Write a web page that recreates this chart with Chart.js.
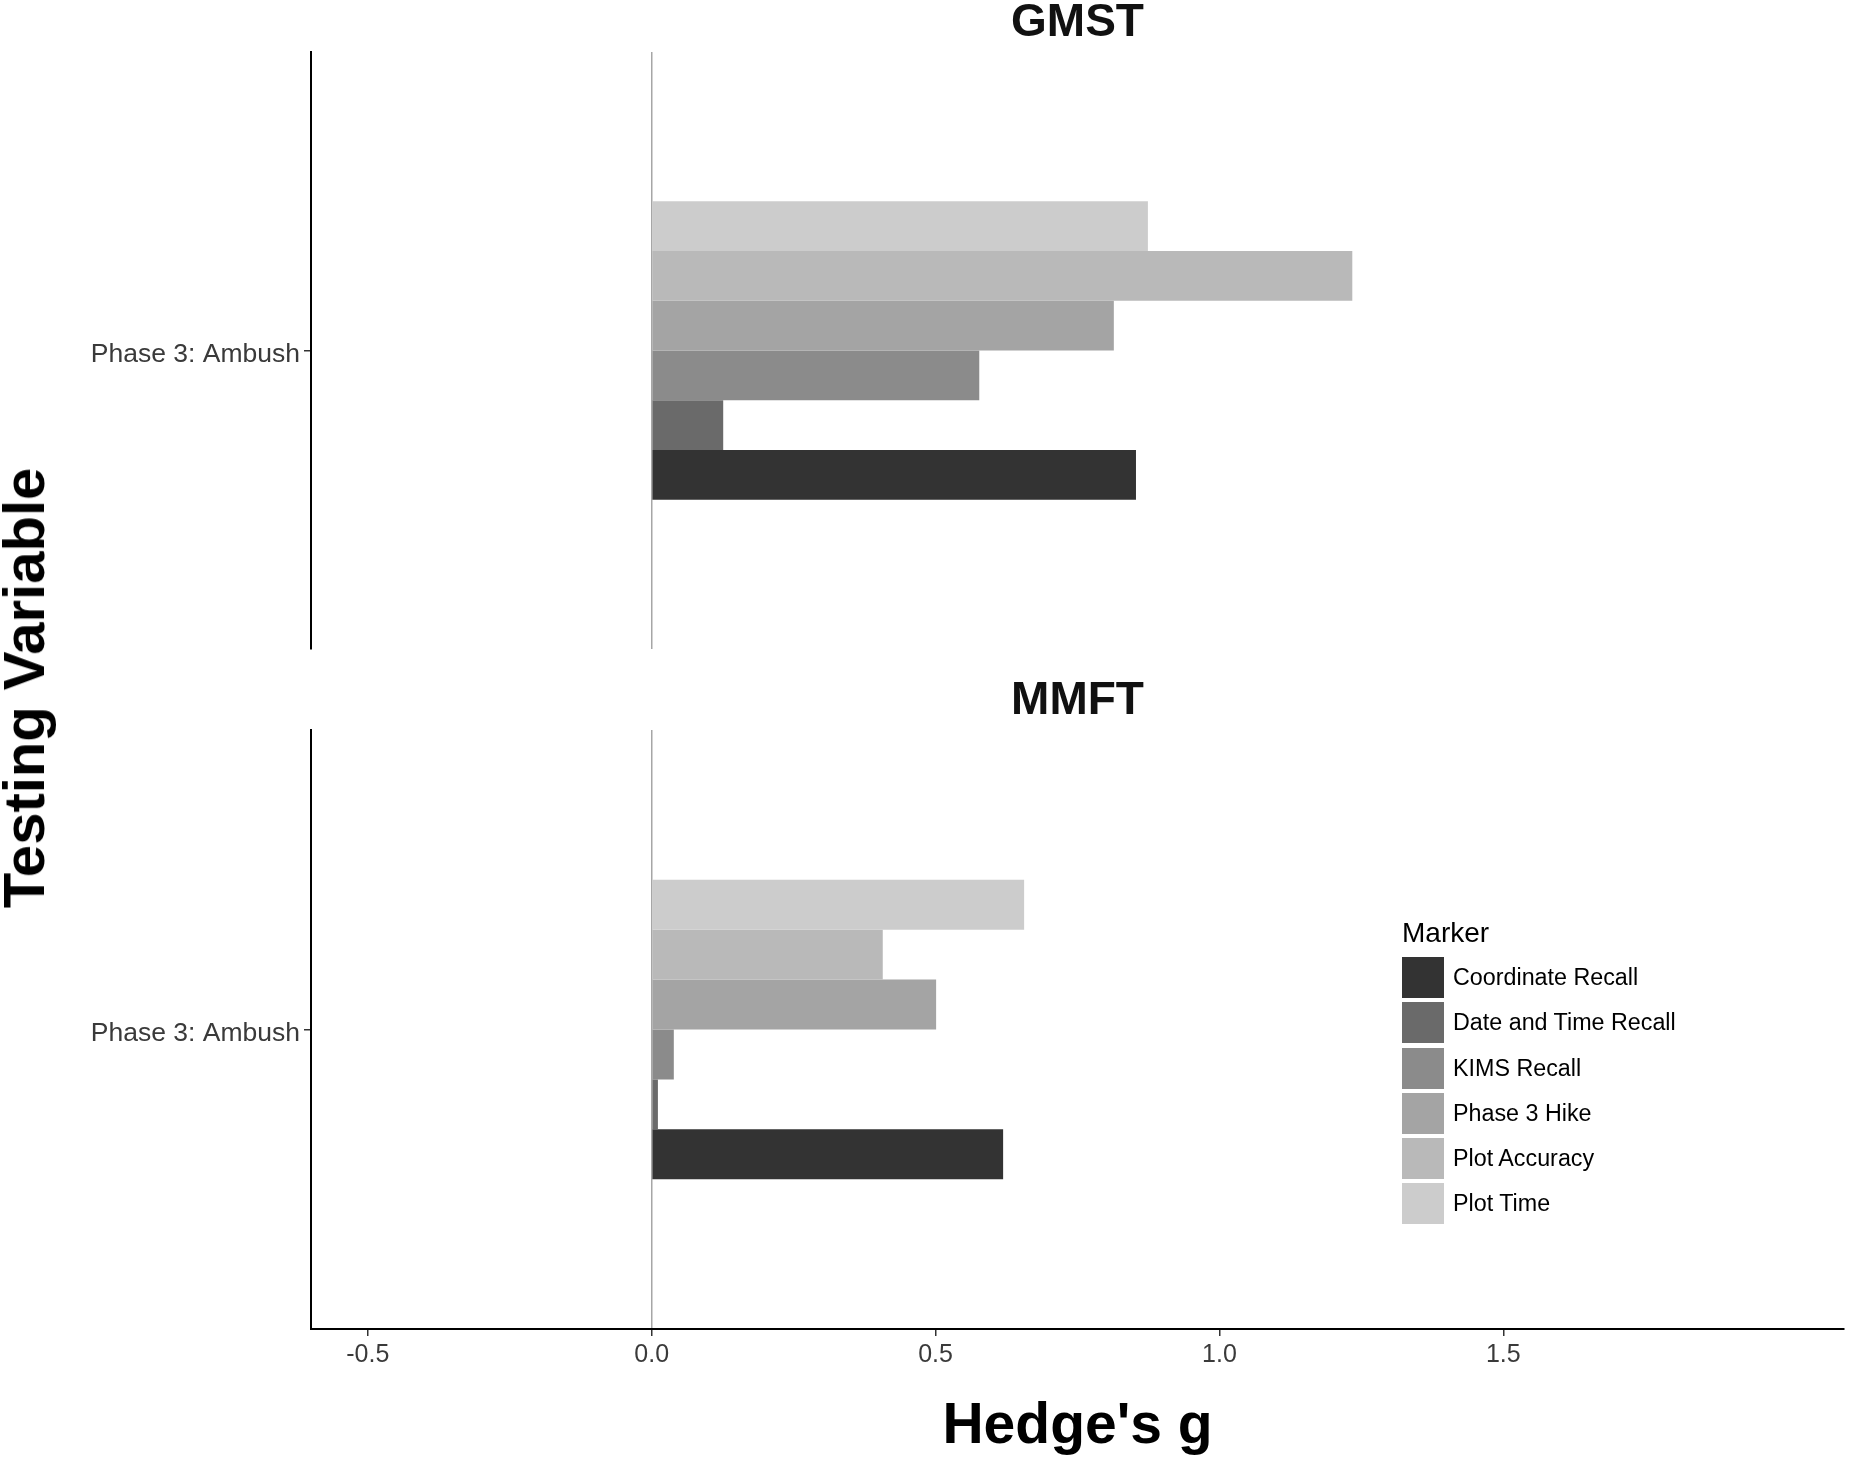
<!DOCTYPE html>
<html>
<head>
<meta charset="utf-8">
<title>Hedge's g by marker</title>
<script src="https://cdn.jsdelivr.net/npm/chart.js@4.4.1/dist/chart.umd.min.js"></script>
<style>
  html, body { margin: 0; padding: 0; background: #fff; }
  body { width: 1850px; height: 1461px; position: relative; overflow: hidden;
         font-family: "Liberation Sans", Arial, sans-serif; }
  canvas { position: absolute; left: 0; }
  #ylab { position: absolute; left: 24px; top: 688px; transform: translate(-50%, -50%) rotate(-90deg);
          font-weight: bold; font-size: 58px; line-height: 1; white-space: nowrap; color: #000; }
  #legend { position: absolute; left: 1402px; top: 915px; color: #000; }
  #legend .ttl { font-size: 28px; line-height: 36px; height: 42px; }
  #legend .row { position: relative; height: 41px; margin-bottom: 4.3px; }
  #legend .sw { position: absolute; left: 0; top: 0; width: 42px; height: 41px; }
  #legend .lb { position: absolute; left: 51px; top: 0; line-height: 41px; font-size: 23.3px; white-space: nowrap; }
</style>
</head>
<body>
<canvas id="gmst" width="1850" height="660" style="top:0px"></canvas>
<canvas id="mmft" width="1850" height="783" style="top:678px"></canvas>
<div id="ylab">Testing Variable</div>
<div id="legend"></div>
<script>
// data
const categories = ['Phase 3: Ambush'];
const markers = ['Coordinate Recall', 'Date and Time Recall', 'KIMS Recall', 'Phase 3 Hike', 'Plot Accuracy', 'Plot Time'];
const gmstValues = [0.853, 0.126, 0.577, 0.814, 1.234, 0.874];
const mmftValues = [0.619, 0.011, 0.039, 0.501, 0.407, 0.656];
const xTicks = [-0.5, 0, 0.5, 1.0, 1.5];

// grey fill scale (dark -> light)
const greys = ['#333333', '#6a6a6a', '#8b8b8b', '#a4a4a4', '#b9b9b9', '#cccccc'];
const FONT = '"Liberation Sans", Arial, sans-serif';

function makePanel(id, title, values, bottom) {
  // first dataset is drawn at the top of the band, so reverse to put Coordinate Recall at the bottom
  const datasets = markers.map(function(m, i) {
    return {
      label: m,
      data: [values[i]],
      backgroundColor: greys[i],
      borderWidth: 0,
      categoryPercentage: 0.5,
      barPercentage: 1.0
    };
  }).reverse();

  return new Chart(document.getElementById(id), {
    type: 'bar',
    data: { labels: categories, datasets: datasets },
    options: {
      indexAxis: 'y',
      responsive: false,
      animation: false,
      layout: { autoPadding: false, padding: { left: 0, right: 6, top: 0, bottom: bottom ? 0 : 11 } },
      plugins: {
        legend: { display: false },
        tooltip: { enabled: false },
        title: {
          display: true,
          text: title,
          fullSize: false,
          color: '#111',
          font: { family: FONT, size: 46, weight: 'bold', lineHeight: 1 },
          padding: { top: 0, bottom: 6 }
        }
      },
      scales: {
        x: {
          type: 'linear',
          min: -0.6,
          max: 2.1,
          afterBuildTicks: function(scale) {
            scale.ticks = xTicks.map(function(v) { return { value: v }; });
          },
          afterFit: function(scale) {
            scale.height = bottom ? 132 : 0;
            scale.paddingLeft = 0;
            scale.paddingRight = 0;
          },
          grid: {
            drawOnChartArea: true,
            drawTicks: bottom,
            tickLength: 7,
            tickWidth: 1.5,
            tickColor: '#333',
            lineWidth: 1.5,
            color: function(ctx) {
              return ctx.tick && ctx.tick.value === 0 ? '#a6a6a6' : 'rgba(0,0,0,0)';
            }
          },
          border: { display: bottom, color: '#000', width: 2 },
          ticks: {
            display: bottom,
            padding: 4,
            color: '#3a3a3a',
            font: { family: FONT, size: 25 },
            callback: function(value) { return value.toFixed(1); }
          },
          title: {
            display: bottom,
            text: "Hedge's g",
            color: '#000',
            font: { family: FONT, size: 57, weight: 'bold', lineHeight: 1.2 },
            padding: { top: 0, bottom: 0 }
          }
        },
        y: {
          afterFit: function(scale) {
            scale.width = 311;
            scale.paddingTop = 0;
            scale.paddingBottom = 0;
          },
          grid: { offset: false, drawOnChartArea: false, drawTicks: true, tickLength: 7, color: '#333', lineWidth: 1.5 },
          border: { display: true, color: '#000', width: 2 },
          ticks: { padding: 4, labelOffset: 4, color: '#3a3a3a', font: { family: FONT, size: 26.5 } }
        }
      }
    }
  });
}

makePanel('gmst', 'GMST', gmstValues, false);
makePanel('mmft', 'MMFT', mmftValues, true);

// legend, in marker order
const legend = document.getElementById('legend');
const ttl = document.createElement('div');
ttl.className = 'ttl';
ttl.textContent = 'Marker';
legend.appendChild(ttl);
markers.forEach(function(m, i) {
  const row = document.createElement('div');
  row.className = 'row';
  const sw = document.createElement('div');
  sw.className = 'sw';
  sw.style.background = greys[i];
  const lb = document.createElement('div');
  lb.className = 'lb';
  lb.textContent = m;
  row.appendChild(sw);
  row.appendChild(lb);
  legend.appendChild(row);
});
</script>
</body>
</html>
